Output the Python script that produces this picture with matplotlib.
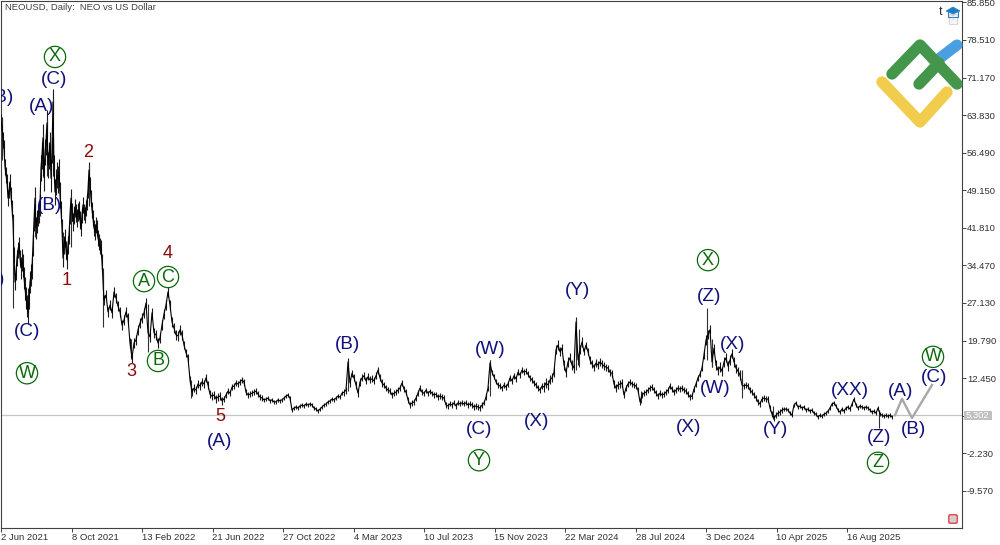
import numpy as np
import matplotlib
matplotlib.use("Agg")
import matplotlib.pyplot as plt
from matplotlib.patches import Polygon, Rectangle, FancyBboxPatch

plt.rcParams['font.family'] = ['Liberation Sans', 'DejaVu Sans']

# closes, one value per column from column 1
close_a = [
    62.5, 61.9, 59, 57.4, 53.7, 52.1, 50.8, 47.6, 49.2, 50.8, 48.2, 45.7, 43, 36.5, 31.2, 33.2, 35.9, 37.5, 38.5, 35.9,
    34, 35.5, 34.5, 32, 30, 28.1, 26.5, 25.2, 28.1, 31.2, 32.6, 34, 38.5, 43.3, 47.6, 41.8, 43, 44.3, 44.9, 46.3,
    53.5, 56, 59.4, 51.6, 56.6, 58.6, 62.3, 54.1, 56, 58, 51.5, 57, 66.4, 53.5, 48.8, 50.8, 52.1, 51.2, 52.7, 48.2,
    45.3, 41.8, 35.9, 38.5, 39.8, 37.5, 35.5, 38.5, 40.4, 44.3, 47.6, 44.9, 43, 44.3, 45.7, 44.7, 43.7, 44.9, 45.3, 43.3,
    41.8, 44.3, 46.3, 44.9, 44.3, 45.7, 46.9, 49.2, 53.1, 50.2, 47.6, 45.3, 43.7, 41.8, 41, 42.4, 41.8, 39.8, 39, 38.2,
    37.9, 35.1, 31.2,
]

# from column 104 on, one value every second column, 20 to a row
close_b = [
    27.7, 28.7, 25.4, 26.7, 25.2, 29.3, 28.1, 26.5, 25.4, 22.8, 23.8, 25.4, 24.2, 19.3, 16.4, 19.3, 19.9, 21.9, 23.2, 24.2,
    25.2, 27.1, 21.3, 20.5, 25.2, 21.3, 20.9, 19.3, 20.3, 22.8, 25, 26.7, 29.3, 26.7, 23.4, 22.2, 20.9, 20.7, 21.9, 20.9,
    18.9, 17.4, 16.4, 12.1, 9.7, 10.5, 10.1, 11.3, 10.9, 11.7, 11.3, 12.5, 11.1, 9.3, 8.9, 9.15, 8.4, 8.75, 8.95, 8,
    8.4, 9.15, 9.9, 9.5, 10.7, 10.9, 11.5, 11.3, 11.7, 12.1, 11.7, 9.7, 9.15, 9.3, 9.5, 9.7, 9.9, 9.3, 8.75, 8.55,
    8.2, 8.35, 8.55, 8, 8.2, 7.8, 7.8, 8.2, 8, 8.2, 8.55, 8.95, 9.15, 8.55, 6.2, 6.6, 6.8, 6.6, 7, 7.2,
    7, 7.4, 7.2, 7.4, 7.2, 6.6, 6.4, 6, 6.4, 6.8, 7.2, 7.4, 7.8, 8, 8.35, 8.2, 8.55, 8.95, 8.75, 9.5,
    9.7, 10.1, 15.6, 11.5, 13.4, 12.5, 11.1, 9.5, 11.7, 12.5, 12.9, 11.9, 12.7, 12.1, 12.3, 11.9, 12.9, 14, 12.5, 11.5,
    11.1, 10.5, 10.1, 9.9, 9.15, 9.5, 9.7, 10.1, 10.5, 11.5, 10.3, 9.7, 8.2, 7.2, 7.6, 7.8, 8.55, 9.5, 10.5, 9.7,
    9.5, 10.1, 9.5, 9.9, 9.5, 9.15, 9.3, 8.75, 8.95, 8.75, 8.55, 7.2, 7, 7.4, 7.2, 7.6, 7, 7.6, 7.4, 7.6,
    7.4, 7.6, 7.2, 7.4, 7.2, 6.8, 7, 6.8, 6.6, 7.2, 7.6, 8.75, 10.5, 15.4, 13.6, 12.7, 11.7, 11.1, 10.9, 10.5,
    11.1, 10.7, 11.3, 12.5, 11.9, 12.9, 12.3, 13.6, 13.05, 14, 13.6, 13.8, 13.2, 12.5, 12.1, 11.5, 11.1, 10.5, 10.1, 10.9,
    10.7, 11.5, 11.1, 12.1, 12.5, 13.6, 18, 18.9, 17.6, 18.3, 15, 13.6, 15.6, 16.4, 15, 14.4, 23.4, 16, 18, 19.5,
    17.6, 18.9, 17.6, 16, 15.2, 14.6, 15.4, 15, 15.6, 15.2, 14.8, 14.6, 14.4, 13.6, 13.4, 11.3, 10.5, 11.1, 11.3, 11.5,
    9.15, 10.5, 11.3, 11.7, 11.3, 11.1, 10.9, 10.1, 7.8, 9.15, 9.5, 9.7, 10.1, 10.5, 10.7, 10.1, 9.5, 8.95, 9.5, 9.15,
    9.3, 9.7, 10.1, 10.9, 10.3, 9.7, 10.1, 10.5, 10.3, 10.5, 10.1, 9.9, 9.3, 8.75, 8.95, 10.3, 11.3, 12.5, 13.2, 14.4,
    17, 19.9, 20.9, 21.9, 15.6, 18.3, 15, 14, 14.6, 13.8, 15.6, 16.4, 14.8, 16, 17.2, 15.6, 14.4, 13.8, 13.05, 11.1,
    10.9, 11.1, 10.9, 10.1, 9.7, 9.15, 8.55, 7.8, 7.4, 8.35, 8.55, 8.35, 8.35, 6.6, 5.4, 4.65, 5.2, 5.6, 5.8, 6.2,
    6.4, 6.4, 6.2, 5.6, 5.2, 7.2, 7.6, 6.8, 7, 6.6, 6.8, 6.2, 6.4, 6, 6.2, 5.6, 5.4, 4.85, 5.2, 5,
    5.4, 5.6, 6, 6.6, 7.4, 7.6, 7, 6.2, 5.8, 6.4, 6, 6.6, 6.8, 6.4, 7.4, 8.35, 7.2, 6.6, 7, 6.8,
    6.6, 6.8, 6.6, 6.2, 5.8, 6, 5.6, 6.6, 5.4, 5.2, 5, 5.2, 5, 5.2, 4.85,
]

# half the daily range seen around the closes, one figure per row above
range_a = [1.6, 2.2, 2.6, 1.8, 1.6, 1.6]
range_b = [1.0, 1.0, 0.8, 0.6, 0.4, 0.4, 0.7, 0.6, 0.5, 0.5, 0.6, 0.9, 0.7, 0.6, 0.6, 0.9, 0.6, 0.4, 0.45, 0.4]

# long shadows: column, low, high
wicks = [(2, 55, 63), (13, 26.1, 44), (28, 25.0, 30), (35, 40, 48), (43, 52, 60), (47, 52, 63), (53, 52, 67),
         (63, 35.5, 41), (71, 38, 48), (89, 46, 54), (103, 22.4, 34), (131, 16.2, 20), (148, 17.5, 27),
         (191, 8.6, 12), (348, 10, 15.9), (490, 9, 16), (576, 14, 24), (579, 14.6, 22), (641, 7.6, 10),
         (707, 16, 26.1), (712, 14.6, 20), (742, 8.5, 14), (773, 4.4, 7), (879, 2.7, 6.2)]

forecast_col = [895, 902, 912, 932]
forecast_price = [5.2, 8.4, 4.65, 11.1]

last_price = 5.302
price_ticks = [85.85, 78.51, 71.17, 63.83, 56.49, 49.15, 41.81, 34.47, 27.13, 19.79, 12.45, 5.11, -2.23, -9.57]
date_labels = ['2 Jun 2021', '8 Oct 2021', '13 Feb 2022', '21 Jun 2022', '27 Oct 2022', '4 Mar 2023', '10 Jul 2023',
               '15 Nov 2023', '22 Mar 2024', '28 Jul 2024', '3 Dec 2024', '10 Apr 2025', '16 Aug 2025']

blue_labels = [('(B)', 1, 67.3), ('(A)', -7, 31.7), ('(C)', 54, 70.8), ('(A)', 42, 65.5), ('(B)', 49, 46.2),
               ('(C)', 27, 21.5), ('(A)', 220, 0.05), ('(B)', 348, 19), ('(W)', 490, 18), ('(C)', 479, 2.4),
               ('(X)', 537, 4), ('(Y)', 578, 29.5), ('(X)', 689, 2.8), ('(Z)', 709, 28.4), ('(W)', 715, 10.4),
               ('(X)', 733, 19), ('(Y)', 775, 2.4), ('(XX)', 850, 10), ('(Z)', 879, 0.8), ('(A)', 901, 9.8),
               ('(B)', 913, 2.4), ('(C)', 934, 12.6)]
red_labels = [('2', 88, 56.6), ('1', 67, 31.6), ('4', 168, 36.7), ('3', 131, 13.8), ('5', 220, 4.85)]
green_labels = [('X', 55, 75.2), ('W', 27, 13.4), ('A', 144, 31.4), ('C', 168, 32.2), ('B', 158, 15.8),
                ('Y', 479, -3.6), ('X', 708, 35.5), ('Z', 878, -4.1), ('W', 933, 16.6)]

NAVY = '#10107a'
DARKRED = '#8b0a0a'
GREEN = '#0a6a0a'
FRAME = '#404040'
SMALL = 6.8

fig = plt.figure(figsize=(10, 5.45), dpi=100)
ax = fig.add_axes([1 / 1000, 1 - 528 / 545, 961 / 1000, 527 / 545])
ax.set_xlim(1, 962)
ax.set_ylim(-16.84, 86.13)

cols = np.concatenate([np.arange(1, 1 + len(close_a)), 104 + 2 * np.arange(len(close_b))])
prices = np.array(close_a + close_b)
half = np.array([range_a[i // 20] for i in range(len(close_a))] + [range_b[i // 20] for i in range(len(close_b))])

ax.axhline(last_price, color='#c4c4c4', lw=0.9, zorder=1)
ax.plot(forecast_col, forecast_price, color='#a8a8a8', lw=1.7, zorder=2)
ax.vlines(cols, prices - half, prices + half, color='#1a1a1a', lw=0.8, zorder=3)
ax.vlines([w[0] for w in wicks], [w[1] for w in wicks], [w[2] for w in wicks], color='#303030', lw=0.8, zorder=3)
ax.plot(cols, prices, color='black', lw=0.8, zorder=4)

for txt, x, y in blue_labels:
    ax.text(x, y, txt, color=NAVY, fontsize=13.6, ha='center', va='center', zorder=6, clip_on=True)
for txt, x, y in red_labels:
    ax.text(x, y, txt, color=DARKRED, fontsize=13, ha='center', va='center', zorder=6)
for txt, x, y in green_labels:
    ax.scatter([x], [y], s=235, facecolors='none', edgecolors=GREEN, linewidths=0.9, zorder=6)
    ax.text(x, y, txt, color=GREEN, fontsize=13, ha='center', va='center', zorder=6)

for s in ax.spines.values():
    s.set_color(FRAME)
    s.set_linewidth(0.8)

ax.yaxis.tick_right()
ax.set_yticks(price_ticks)
ax.set_yticklabels(['%.3f' % v if v != 5.11 else '' for v in price_ticks])
ax.tick_params(axis='y', length=3, width=0.7, color=FRAME, labelsize=SMALL, labelcolor='#303030', pad=0.5)
ax.set_xticks([1 + 70.5 * i for i in range(len(date_labels))])
ax.set_xticklabels(date_labels, ha='left')
ax.tick_params(axis='x', length=3, width=0.7, color=FRAME, labelsize=SMALL, labelcolor='#303030', pad=0.5)

ax.text(4 / 961, 1 - 7 / 527, 'NEOUSD, Daily:  NEO vs US Dollar', transform=ax.transAxes, fontsize=SMALL,
        color='#404040', ha='left', va='center')

# overlay in picture pixels for the logo, the price tag and the small icons
ov = fig.add_axes([0, 0, 1, 1], facecolor='none')
ov.set_xlim(0, 1000)
ov.set_ylim(545, 0)
ov.axis('off')

ov.plot([940, 957], [58, 45], color='#4a9fe2', lw=8, solid_capstyle='round')
ov.plot([892, 920, 957], [74, 45, 84], color='#43964a', lw=8.2, solid_capstyle='round', solid_joinstyle='round')
ov.plot([919, 939], [84, 63], color='#43964a', lw=8.2, solid_capstyle='round')
ov.plot([882, 920, 947], [82, 122, 92], color='#f2cc4d', lw=8.2, solid_capstyle='round', solid_joinstyle='round')

ov.add_patch(Rectangle((964, 410.5), 28, 9.5, color='#c0c0c0', lw=0))
ov.text(978, 415.5, '5.302', color='white', fontsize=SMALL, ha='center', va='center')

ov.text(941, 12, 't', color='#303030', fontsize=9, ha='center', va='center')
ov.add_patch(Rectangle((949, 14), 8, 10, facecolor='#f4f4f4', edgecolor='#d0d0d0', lw=0.6))
ov.text(953, 19, 'T', color='#c8c8c8', fontsize=5, ha='center', va='center')
ov.add_patch(Polygon([[946, 11], [953, 7], [960, 11], [953, 14]], facecolor='#1f7fc4', edgecolor='#1f7fc4', lw=0.5))
ov.plot([948, 948, 958, 958], [12, 17, 17, 12], color='#1f7fc4', lw=0.7)

ov.add_patch(FancyBboxPatch((950, 516), 6, 6, boxstyle='round,pad=1.2', facecolor='#d0d0d0', edgecolor='#e83030', lw=0.9))

fig.savefig('out.png', dpi=100)
